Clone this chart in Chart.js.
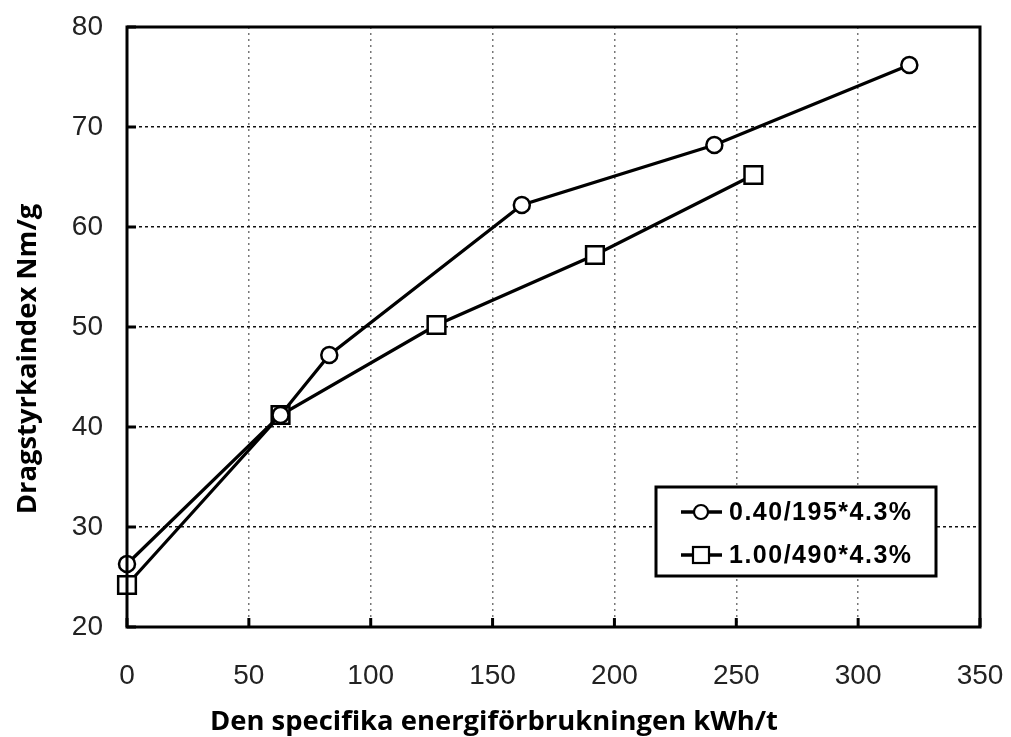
<!doctype html>
<html>
<head>
<meta charset="utf-8" />
<title>Dragstyrkaindex</title>
<style>
  html, body { margin: 0; padding: 0; background: #fff; }
  #wrap { width: 1011px; height: 737px; }
</style>
<script src="https://cdn.jsdelivr.net/npm/chart.js"></script>
</head>
<body>
<div id="wrap"><canvas id="chart" width="1011" height="737"></canvas></div>
<script>
  // values
  const energyA = [0, 63, 83, 162, 241, 321];
  const indexA = [26.3, 41.2, 47.2, 62.2, 68.2, 76.2];
  const energyB = [0, 63, 127, 192, 257];
  const indexB = [24.2, 41.2, 50.2, 57.2, 65.2];
  const labels = ['0.40/195*4.3%', '1.00/490*4.3%'];
  const xTitle = 'Den specifika energiförbrukningen kWh/t';
  const yTitle = 'Dragstyrkaindex Nm/g';

  const toPts = (xs, ys) => xs.map((x, i) => ({ x, y: ys[i] }));
  const tickFont = { family: '"Liberation Sans", Arial, sans-serif', size: 28 };

  // frame, inward ticks, axis titles and the boxed legend
  const decor = {
    id: 'decor',
    afterDatasetsDraw(chart) {
      const { ctx, chartArea: a, scales } = chart;
      ctx.save();
      ctx.strokeStyle = '#000';
      ctx.lineWidth = 3;
      ctx.strokeRect(a.left, a.top, a.right - a.left, a.bottom - a.top);

      for (const t of scales.x.ticks) {
        const px = scales.x.getPixelForValue(t.value);
        ctx.beginPath(); ctx.moveTo(px, a.bottom); ctx.lineTo(px, a.bottom - 9); ctx.stroke();
      }
      for (const t of scales.y.ticks) {
        const py = scales.y.getPixelForValue(t.value);
        ctx.beginPath(); ctx.moveTo(a.left, py); ctx.lineTo(a.left + 9, py); ctx.stroke();
      }

      // axis titles, sized so the x title spans the same width as in the reference
      ctx.fillStyle = '#000';
      ctx.font = 'bold 28px "Open Sans", "DejaVu Sans", sans-serif';
      const size = Math.round(28 * 568 / ctx.measureText(xTitle).width * 10) / 10;
      ctx.font = 'bold ' + size + 'px "Open Sans", "DejaVu Sans", sans-serif';
      ctx.textAlign = 'center';
      ctx.textBaseline = 'middle';
      ctx.fillText(xTitle, 494, 722);
      ctx.save();
      ctx.translate(28, 359);
      ctx.rotate(-Math.PI / 2);
      ctx.fillText(yTitle, 0, 0);
      ctx.restore();

      // legend box
      const bx = 656, by = 487, bw = 280, bh = 89;
      ctx.fillStyle = '#fff';
      ctx.fillRect(bx, by, bw, bh);
      ctx.lineWidth = 3;
      ctx.strokeRect(bx, by, bw, bh);
      chart.data.datasets.forEach((ds, i) => {
        const cy = 512 + i * 43;
        ctx.lineWidth = 3.5;
        ctx.strokeStyle = '#000';
        ctx.beginPath(); ctx.moveTo(681, cy); ctx.lineTo(722, cy); ctx.stroke();
        ctx.fillStyle = '#fff';
        ctx.lineWidth = 2.2;
        if (ds.pointStyle === 'circle') {
          ctx.beginPath(); ctx.arc(701, cy, 7, 0, Math.PI * 2); ctx.fill(); ctx.stroke();
        } else {
          ctx.fillRect(693, cy - 8, 16, 16); ctx.strokeRect(693, cy - 8, 16, 16);
        }
        ctx.fillStyle = '#000';
        ctx.font = 'bold 25px "Liberation Sans", Arial, sans-serif';
        ctx.letterSpacing = '1.5px';
        ctx.textAlign = 'left';
        ctx.fillText(ds.label, 729, cy + 1);
        ctx.letterSpacing = '0px';
      });
      ctx.restore();
    }
  };

  new Chart(document.getElementById('chart'), {
    type: 'scatter',
    data: {
      datasets: [
        {
          label: labels[0], data: toPts(energyA, indexA), showLine: true, clip: false,
          borderColor: '#000', borderWidth: 3.2, backgroundColor: '#fff',
          pointStyle: 'circle', pointRadius: 8, pointBorderWidth: 2.5,
          pointBackgroundColor: '#fff', pointBorderColor: '#000'
        },
        {
          label: labels[1], data: toPts(energyB, indexB), showLine: true, clip: false,
          borderColor: '#000', borderWidth: 3.2, backgroundColor: '#fff',
          pointStyle: 'rect', pointRadius: 12.5, pointBorderWidth: 2.5,
          pointBackgroundColor: '#fff', pointBorderColor: '#000'
        }
      ]
    },
    options: {
      responsive: false,
      animation: false,
      layout: { padding: { left: 0, top: 27, right: 31, bottom: 0 } },
      plugins: { legend: { display: false }, tooltip: { enabled: false } },
      scales: {
        x: {
          type: 'linear', min: 0, max: 350,
          ticks: { stepSize: 50, color: '#222', padding: 32, font: tickFont },
          grid: { color: '#777', lineWidth: 1.5, drawTicks: false },
          border: { display: false, dash: [2, 4] },
          afterFit(s) { s.height = 110; s.paddingLeft = 0; s.paddingRight = 0; }
        },
        y: {
          type: 'linear', min: 20, max: 80,
          ticks: { stepSize: 10, color: '#222', padding: 24, font: tickFont },
          grid: { color: '#111', lineWidth: 1.5, drawTicks: false },
          border: { display: false, dash: [3, 3] },
          afterFit(s) { s.width = 127; s.paddingTop = 0; s.paddingBottom = 0; }
        }
      }
    },
    plugins: [decor]
  });
</script>
</body>
</html>
